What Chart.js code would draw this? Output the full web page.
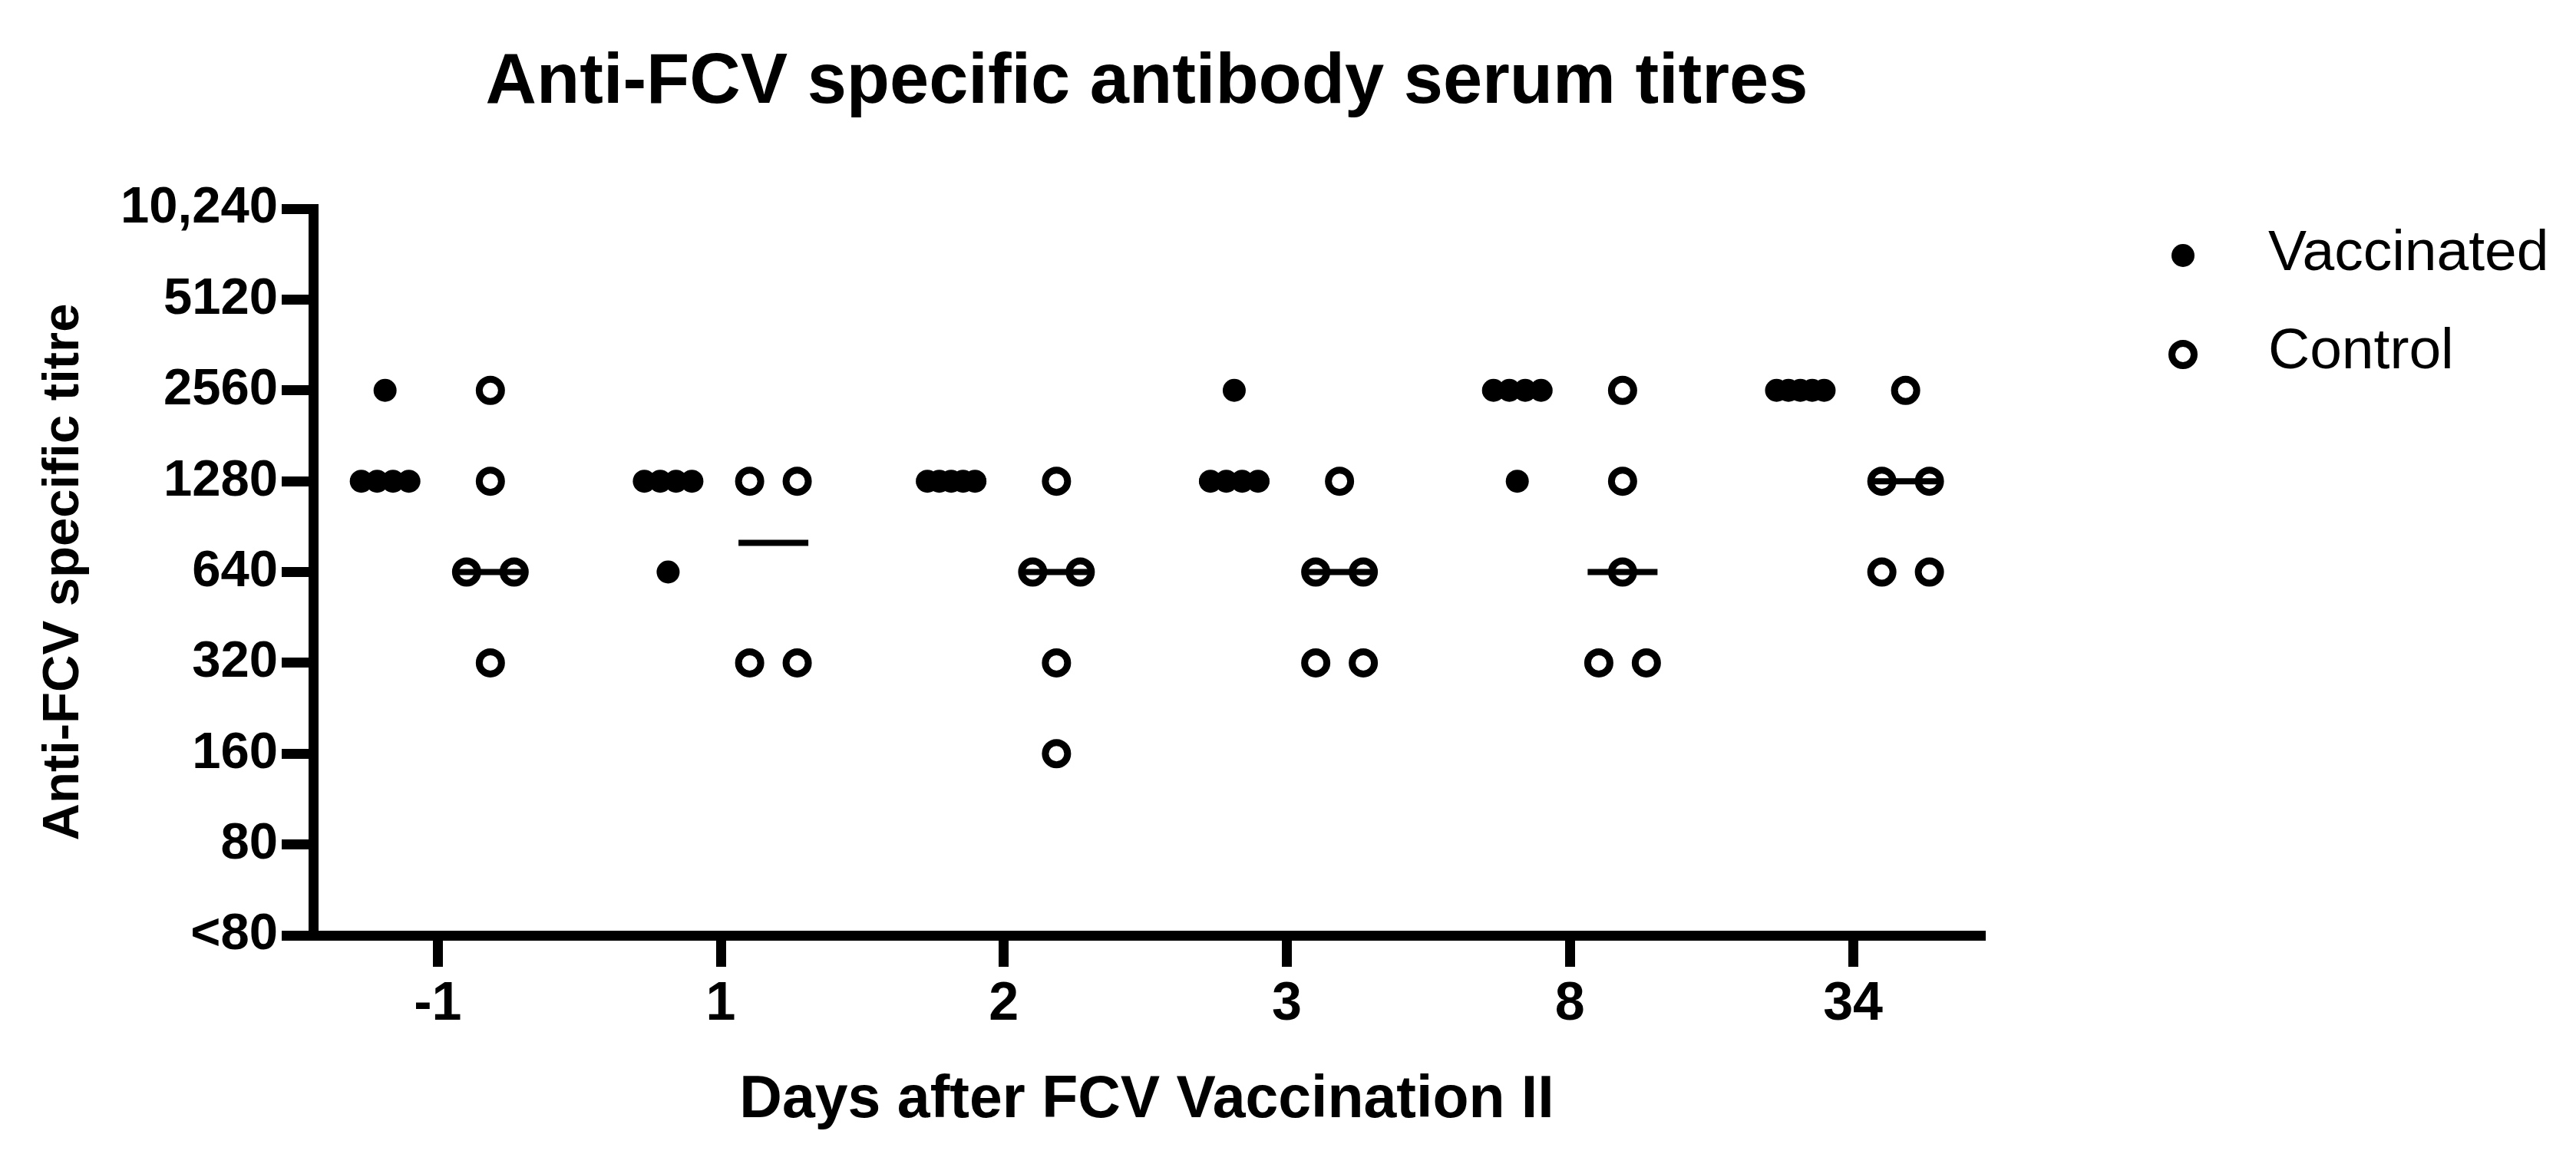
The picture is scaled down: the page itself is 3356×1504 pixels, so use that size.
<!DOCTYPE html>
<html>
<head>
<meta charset="utf-8">
<script src="https://cdn.jsdelivr.net/npm/chart.js"></script>
<style>
  html, body { margin: 0; padding: 0; background: #ffffff; }
  #wrap { width: 3356px; height: 1504px; }
</style>
</head>
<body>
<div id="wrap"><canvas id="c" width="3356" height="1504"></canvas></div>
<script>
// ---- Data ----
const days = ['-1', '1', '2', '3', '8', '34'];

// individual titres per day (Vaccinated group)
const vaccinated = [
  [2560, 1280, 1280, 1280, 1280],
  [1280, 1280, 1280, 1280, 640],
  [1280, 1280, 1280, 1280, 1280],
  [2560, 1280, 1280, 1280, 1280],
  [2560, 2560, 2560, 2560, 1280],
  [2560, 2560, 2560, 2560, 2560]
];

// individual titres per day (Control group)
const control = [
  [2560, 1280, 640, 640, 320],
  [1280, 1280, 320, 320],
  [1280, 640, 640, 320, 160],
  [1280, 640, 640, 320, 320],
  [2560, 1280, 640, 320, 320],
  [2560, 1280, 1280, 640, 640]
];

// median lines per day
const vaccinatedMedian = [1280, 1280, 1280, 1280, 2560, 2560];
const controlMedian = [640, 800, 640, 640, 640, 1280];

// y axis ticks ("<80" drawn at 40)
const yTickValues = [40, 80, 160, 320, 640, 1280, 2560, 5120, 10240];
const yTickLabels = ['<80', '80', '160', '320', '640', '1280', '2560', '5120', '10,240'];

const seriesNames = ['Vaccinated', 'Control'];

// ---- Layout helpers (styling only) ----
const GROUP_OFFSET = 0.186;   // horizontal shift of each group from the day tick
const SPREAD = 0.168;         // total horizontal spread of tied points

function swarm(groups, shift) {
  const pts = [];
  groups.forEach((vals, i) => {
    const counts = {};
    vals.forEach(v => { counts[v] = (counts[v] || 0) + 1; });
    const seen = {};
    vals.forEach(v => {
      const n = counts[v];
      const k = seen[v] || 0;
      seen[v] = k + 1;
      const off = n > 1 ? (k - (n - 1) / 2) * SPREAD / (n - 1) : 0;
      pts.push({ x: i + shift + off, y: v });
    });
  });
  return pts;
}
function medianPts(meds, shift) {
  return meds.map((m, i) => ({ x: i + shift, y: m }));
}

const FONT = '"Liberation Sans", Arial, Helvetica, sans-serif';
Chart.defaults.font.family = FONT;
Chart.defaults.color = '#000';

const legendPlugin = {
  id: 'sideLegend',
  afterDraw(chart) {
    const ctx = chart.ctx;
    const a = chart.chartArea;
    const mx = a.right + 264;
    const tx = a.right + 375;
    const rows = [a.top + 61, a.top + 190];
    ctx.save();
    // Vaccinated marker
    const d0 = chart.data.datasets[0];
    ctx.beginPath();
    ctx.arc(mx, rows[0], d0.pointRadius, 0, Math.PI * 2);
    ctx.fillStyle = d0.pointBackgroundColor;
    ctx.fill();
    // Control marker
    const d1 = chart.data.datasets[1];
    ctx.beginPath();
    ctx.arc(mx, rows[1], d1.pointRadius, 0, Math.PI * 2);
    ctx.lineWidth = d1.pointBorderWidth;
    ctx.strokeStyle = d1.pointBorderColor;
    ctx.stroke();
    ctx.fillStyle = '#000';
    ctx.font = 'normal 75px ' + FONT;
    ctx.textAlign = 'left';
    ctx.textBaseline = 'middle';
    ctx.fillText(seriesNames[0], tx, rows[0] - 2);
    ctx.fillText(seriesNames[1], tx, rows[1] - 3);
    ctx.restore();
  }
};

new Chart(document.getElementById('c'), {
  type: 'scatter',
  data: {
    datasets: [
      {
        label: seriesNames[0],
        data: swarm(vaccinated, -GROUP_OFFSET),
        pointStyle: 'circle',
        pointRadius: 15,
        pointBackgroundColor: '#000',
        pointBorderColor: '#000',
        pointBorderWidth: 0,
        showLine: false
      },
      {
        label: seriesNames[1],
        data: swarm(control, GROUP_OFFSET),
        pointStyle: 'circle',
        pointRadius: 14.5,
        pointBackgroundColor: 'rgba(0,0,0,0)',
        pointBorderColor: '#000',
        pointBorderWidth: 9,
        showLine: false
      },
      {
        label: 'Vaccinated median',
        data: medianPts(vaccinatedMedian, -GROUP_OFFSET),
        pointStyle: 'line',
        pointRadius: 45.5,
        pointBorderColor: '#000',
        pointBackgroundColor: '#000',
        pointBorderWidth: 8,
        showLine: false
      },
      {
        label: 'Control median',
        data: medianPts(controlMedian, GROUP_OFFSET),
        pointStyle: 'line',
        pointRadius: 45.5,
        pointBorderColor: '#000',
        pointBackgroundColor: '#000',
        pointBorderWidth: 8,
        showLine: false
      }
    ]
  },
  options: {
    responsive: false,
    devicePixelRatio: 1,
    animation: false,
    events: [],
    layout: { padding: { left: 0, right: 776, top: 0, bottom: 0 } },
    plugins: {
      legend: { display: false },
      tooltip: { enabled: false },
      title: {
        display: true,
        text: 'Anti-FCV specific antibody serum titres',
        fullSize: false,
        color: '#000',
        font: { size: 92, weight: 'bold', family: FONT },
        padding: { top: 53, bottom: 108.6 }
      }
    },
    scales: {
      x: {
        type: 'linear',
        min: -0.44,
        max: 5.45,
        afterBuildTicks(scale) {
          scale.ticks = days.map((d, i) => ({ value: i }));
        },
        afterFit(scale) { scale.height = 285; },
        ticks: {
          autoSkip: false,
          maxRotation: 0,
          minRotation: 0,
          padding: 8,
          color: '#000',
          font: { size: 70, weight: 'bold', family: FONT },
          callback: (v, i) => days[i]
        },
        grid: {
          display: true,
          drawOnChartArea: false,
          drawTicks: true,
          tickLength: 41,
          tickWidth: 13,
          tickColor: '#000',
          lineWidth: 13,
          color: '#000'
        },
        border: { display: true, color: '#000', width: 13 },
        title: {
          display: true,
          text: 'Days after FCV Vaccination II',
          color: '#000',
          font: { size: 77, weight: 'bold', family: FONT },
          padding: { top: 0, bottom: 23.3 }
        }
      },
      y: {
        type: 'logarithmic',
        min: 40,
        max: 10240,
        afterBuildTicks(scale) {
          scale.ticks = yTickValues.map(v => ({ value: v }));
        },
        afterFit(scale) { scale.width = 408; },
        ticks: {
          autoSkip: false,
          padding: 5,
          color: '#000',
          font: { size: 67, weight: 'bold', family: FONT },
          callback: (v, i) => yTickLabels[i]
        },
        grid: {
          display: true,
          drawOnChartArea: false,
          drawTicks: true,
          tickLength: 41,
          tickWidth: 13,
          tickColor: '#000',
          lineWidth: 13,
          color: '#000'
        },
        border: { display: true, color: '#000', width: 13 },
        title: {
          display: true,
          text: 'Anti-FCV specific titre',
          color: '#000',
          font: { size: 67, weight: 'bold', family: FONT },
          padding: { top: 43, bottom: 0 }
        }
      }
    }
  },
  plugins: [legendPlugin]
});
</script>
</body>
</html>
